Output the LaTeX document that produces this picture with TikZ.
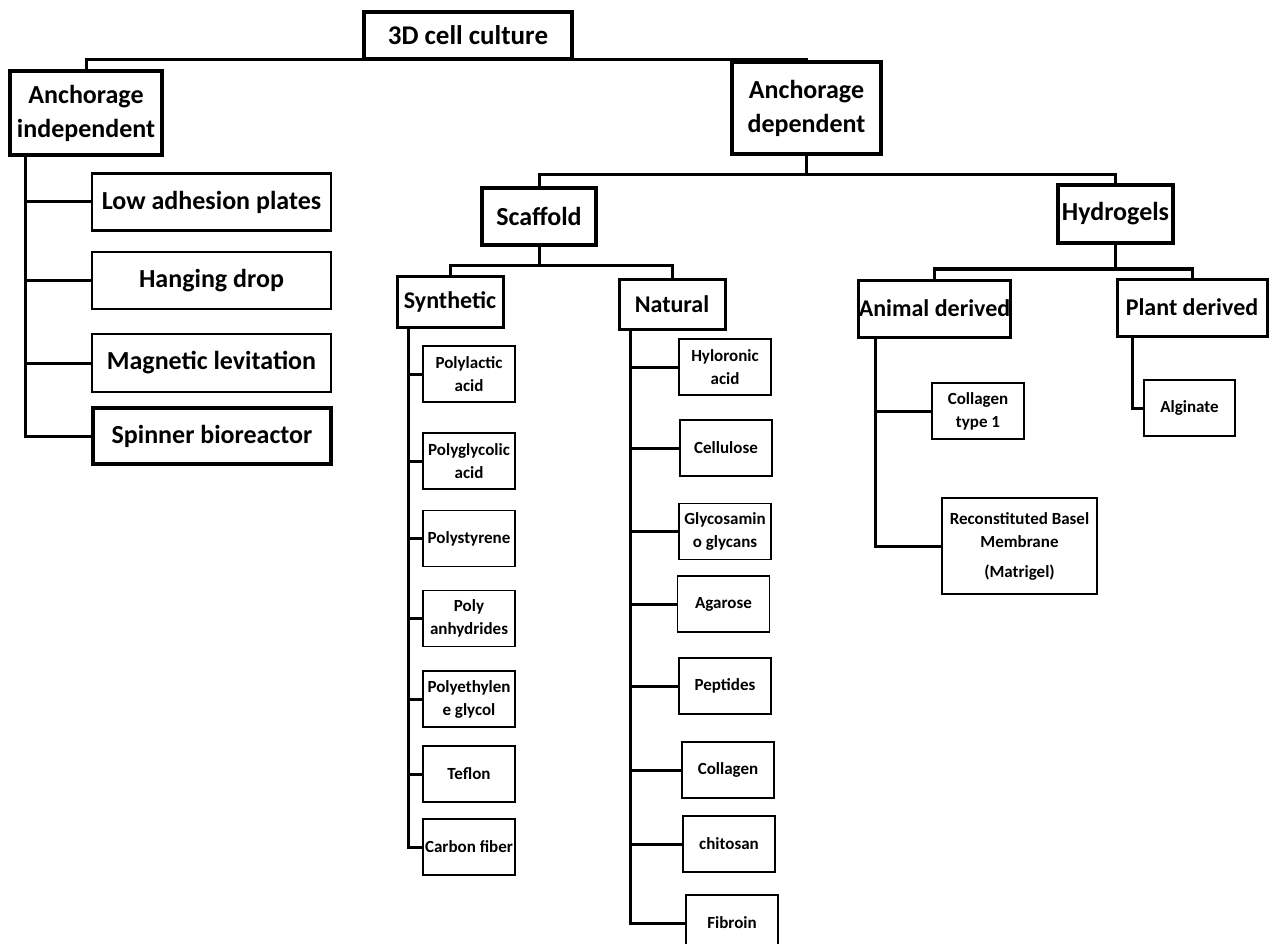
\documentclass[tikz,border=0pt]{standalone}
\usepackage{fontspec}
\setmainfont{Carlito}
\begin{document}
\begin{tikzpicture}[x=1pt,y=-1pt,
  bigbox/.style={draw, line width=3.2pt, align=center, inner sep=0pt, font=\bfseries\fontsize{26}{34}\selectfont},
  midbox/.style={draw, line width=3pt, align=center, inner sep=0pt, font=\bfseries\fontsize{24}{30}\selectfont},
  smallbox/.style={draw, line width=1.6pt, align=center, inner sep=0pt, minimum width=92pt, minimum height=56pt, font=\bfseries\fontsize{17}{23}\selectfont},
  conn/.style={line width=3pt}
]
\useasboundingbox (0,0) rectangle (1272,944);
\fill[white] (0,0) rectangle (1272,944);

% level 0/1
\node[bigbox, minimum width=208pt, minimum height=47pt, font=\bfseries\fontsize{27}{34}\selectfont] (cult) at (468,35.5) {3D cell culture};
\node[bigbox, minimum width=152pt, minimum height=84pt] (indep) at (86,113) {Anchorage\\independent};
\node[bigbox, minimum width=149pt, minimum height=92pt] (dep) at (806.5,108) {Anchorage\\dependent};

% anchorage independent children
\node[bigbox, minimum width=239pt, minimum height=57pt, line width=2.6pt] (low) at (211.5,202) {Low adhesion plates};
\node[bigbox, minimum width=239pt, minimum height=57pt, line width=2.6pt] (hang) at (211.5,280.5) {Hanging drop};
\node[bigbox, minimum width=239pt, minimum height=58pt, line width=2.6pt] (magn) at (211.5,363) {Magnetic levitation};
\node[bigbox, minimum width=238pt, minimum height=56pt] (spin) at (212,436) {Spinner bioreactor};

% anchorage dependent children
\node[bigbox, minimum width=114pt, minimum height=57pt] (scaf) at (539,216.5) {Scaffold};
\node[bigbox, minimum width=115pt, minimum height=58pt] (hydro) at (1115.5,214) {Hydrogels};

\node[midbox, minimum width=106pt, minimum height=51pt] (synt) at (450,301.5) {Synthetic};
\node[midbox, minimum width=106pt, minimum height=50pt] (natu) at (672,304) {Natural};
\node[midbox, minimum width=151pt, minimum height=57pt] (anim) at (934.5,308.5) {Animal derived};
\node[midbox, minimum width=150pt, minimum height=57pt] (plant) at (1192,307.5) {Plant derived};

% synthetic
\node[smallbox] (pla) at (469,374) {Polylactic\\acid};
\node[smallbox] (pga) at (469,461) {Polyglycolic\\acid};
\node[smallbox] (ps)  at (469,538.5) {Polystyrene};
\node[smallbox] (pan) at (469,618.5) {Poly\\anhydrides};
\node[smallbox] (peg) at (469,699) {Polyethylen\\e glycol};
\node[smallbox] (tef) at (469,774) {Teflon};
\node[smallbox] (cf)  at (469,847) {Carbon fiber};

% natural
\node[smallbox] (hya) at (725,367) {Hyloronic\\acid};
\node[smallbox] (cel) at (726,448) {Cellulose};
\node[smallbox] (gag) at (725,531.5) {Glycosamin\\o glycans};
\node[smallbox] (aga) at (723.5,604) {Agarose};
\node[smallbox] (pep) at (725,686) {Peptides};
\node[smallbox] (col) at (728,770) {Collagen};
\node[smallbox] (chi) at (729,844) {chitosan};
\node[smallbox] (fib) at (732,923) {Fibroin};

% hydrogels
\node[smallbox] (coll1) at (978,411) {Collagen\\type 1};
\node[smallbox, minimum width=155pt, minimum height=96pt] (rbm) at (1019.5,546) {Reconstituted Basel\\Membrane\\[7pt](Matrigel)};
\node[smallbox, minimum width=91pt] (alg) at (1189.5,408) {Alginate};

% connectors
\coordinate (j0) at (468,60);
\draw[conn] (indep.north) |- (j0) -| (dep.north);

\coordinate (ia) at (25,155);
\draw[conn] (ia) |- (spin.west);
\foreach \n in {low,hang,magn} \draw[conn] (\n.west) -- (\n.west -| ia);

\coordinate (j1) at (806.5,175);
\draw[conn] (dep.south) -- (j1);
\draw[conn] (scaf.north) |- (j1) -| (hydro.north);

\coordinate (j2) at (539,266);
\draw[conn] (scaf.south) -- (j2);
\draw[conn] (synt.north) |- (j2) -| (natu.north);

\coordinate (j3) at (1115.5,269);
\draw[conn] (hydro.south) -- (j3);
\draw[conn] (anim.north) |- (j3) -| (plant.north);

\coordinate (sa) at (408,327);
\draw[conn] (sa) |- (cf.west);
\foreach \n in {pla,pga,ps,pan,peg,tef} \draw[conn] (\n.west) -- (\n.west -| sa);

\coordinate (na) at (630,329);
\draw[conn] (na) |- (fib.west);
\foreach \n in {hya,cel,gag,aga,pep,col,chi} \draw[conn] (\n.west) -- (\n.west -| na);

\coordinate (aa) at (875,337);
\draw[conn] (aa) |- (rbm.west);
\draw[conn] (coll1.west) -- (coll1.west -| aa);

\coordinate (pa) at (1132,336);
\draw[conn] (pa) |- (alg.west);
\end{tikzpicture}
\end{document}
